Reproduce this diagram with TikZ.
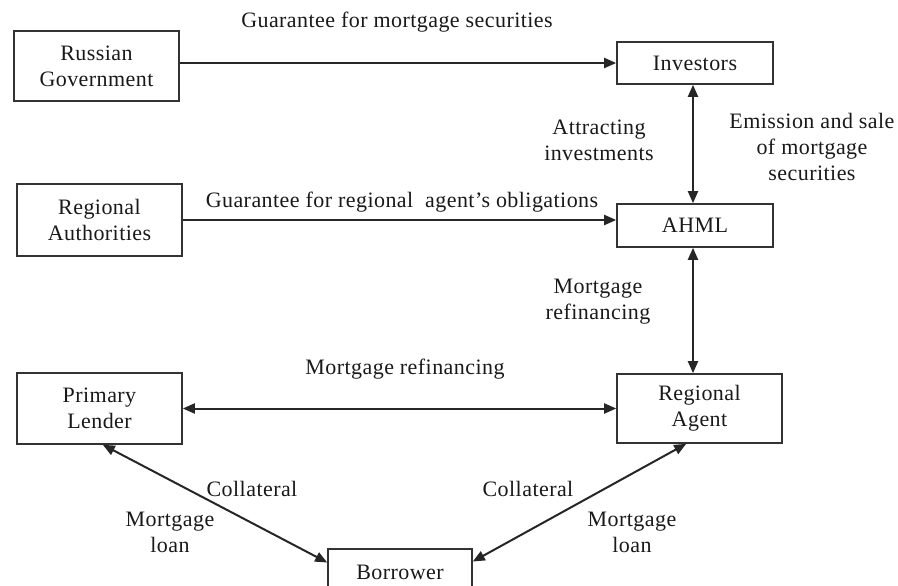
\documentclass[tikz,border=0pt]{standalone}
\usepackage{fontspec}
\setmainfont{Liberation Serif}[LetterSpace=2]
\usetikzlibrary{arrows.meta,calc}
\begin{document}
\begin{tikzpicture}[x=1pt,y=-1pt,
  every node/.style={font=\fontsize{22}{26}\selectfont, text=black!90},
  box/.style={draw=black!80, line width=1.6pt, inner sep=0pt, align=center},
  lbl/.style={align=center, inner sep=0pt},
  conn/.style={draw=black!85, line width=2pt},
  tip/.style={-{Triangle[length=12pt,width=10pt]}},
  dtip/.style={{Triangle[length=12pt,width=10pt]}-{Triangle[length=12pt,width=10pt]}}]
\useasboundingbox (0,0) rectangle (898,586);
\clip (0,0) rectangle (898,586);
% boxes
\node[box, minimum width=165pt, minimum height=70pt] (rg) at (96.5,66) {Russian\\Government};
\node[box, minimum width=156pt, minimum height=42pt] (inv) at (695,63) {Investors};
\node[box, minimum width=156pt, minimum height=43pt] (ahml) at (695,225.5) {AHML};
\node[box, minimum width=165pt, minimum height=72pt] (ra) at (99.5,220) {Regional\\Authorities};
\node[box, minimum width=165pt, minimum height=71pt] (pl) at (99.5,408.5) {Primary\\Lender};
\node[box, minimum width=165pt, minimum height=69pt] (ag) at (699.5,408.5) {Regional\\Agent};
\node[box, minimum width=144pt, minimum height=46pt] (bor) at (400,572) {Borrower};
% connectors
\draw[conn, tip] (rg.east |- inv.west) -- (inv.west);
\draw[conn, tip] (ra.east) -- (ra.east -| ahml.west);
\draw[conn, dtip] ([xshift=-2pt]ahml.north) -- ([xshift=-2pt]inv.south);
\draw[conn, dtip] ([xshift=-2pt]ahml.south) -- ([xshift=-2pt]ahml.south |- ag.north);
\draw[conn, dtip] (pl.east) -- (pl.east -| ag.west);
\draw[conn, dtip] ($(pl.south west)!0.52!(pl.south east)$) -- ($(bor.north west)!0.3!(bor.south west)$);
\draw[conn, dtip] ($(ag.south west)!0.42!(ag.south east)$) -- ($(bor.north east)!0.28!(bor.south east)$);
% labels
\node[lbl] (l1) at (397,22) {Guarantee for mortgage securities};
\node[lbl] (l2) at (599,140) {Attracting\\investments};
\node[lbl] (l3) at (812,147) {Emission and sale\\of mortgage\\securities};
\node[lbl] (l4) at (402,202) {Guarantee for regional\ \ agent’s obligations};
\node[lbl] (l5) at (598,302) {Mortgage\\refinancing};
\node[lbl] (l6) at (405,369) {Mortgage refinancing};
\node[lbl] (l7) at (252,489) {Collateral};
\node[lbl] (l8) at (170,532) {Mortgage\\loan};
\node[lbl] (l9) at (528,489) {Collateral};
\node[lbl] (l10) at (632,532) {Mortgage\\loan};
\end{tikzpicture}
\end{document}
